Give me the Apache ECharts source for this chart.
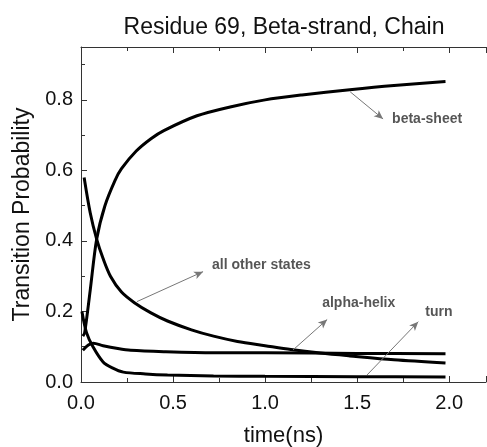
<!DOCTYPE html>
<html>
<head>
<meta charset="utf-8">
<script src="https://cdn.jsdelivr.net/npm/echarts@6/dist/echarts.min.js"></script>
<style>
  html, body { margin: 0; padding: 0; background: #fff; }
  #chart { width: 487px; height: 447px; }
</style>
</head>
<body>
<div id="chart"></div>
<script>
// Transition probabilities vs. time (ns) for residue 69
const betaSheetX = [0.01, 0.02, 0.05, 0.085, 0.13, 0.185, 0.22, 0.3, 0.38, 0.45, 0.63, 0.81, 1.0, 1.2, 1.46, 1.7, 1.98];
const betaSheetY = [0.13, 0.14, 0.26, 0.405, 0.50, 0.572, 0.605, 0.655, 0.69, 0.713, 0.755, 0.78, 0.80, 0.814, 0.829, 0.841, 0.852];

const otherX = [0.017, 0.05, 0.085, 0.12, 0.16, 0.22, 0.29, 0.38, 0.47, 0.6, 0.72, 0.85, 1.0, 1.14, 1.3, 1.46, 1.7, 1.98];
const otherY = [0.58, 0.48, 0.405, 0.35, 0.30, 0.255, 0.225, 0.196, 0.173, 0.148, 0.13, 0.115, 0.103, 0.092, 0.082, 0.074, 0.063, 0.054];

const alphaX = [0.01, 0.04, 0.067, 0.12, 0.2, 0.27, 0.45, 0.72, 1.0, 1.5, 1.98];
const alphaY = [0.09, 0.105, 0.11, 0.103, 0.095, 0.09, 0.086, 0.083, 0.083, 0.081, 0.08];

const turnX = [0.005, 0.03, 0.065, 0.12, 0.17, 0.23, 0.35, 0.47, 0.72, 1.0, 1.5, 1.98];
const turnY = [0.2, 0.14, 0.10, 0.057, 0.04, 0.028, 0.023, 0.02, 0.017, 0.016, 0.015, 0.014];

// Annotation text and arrows (data coordinates: from curve -> toward label)
const annoNames  = ['beta-sheet', 'all other states', 'alpha-helix', 'turn'];
const annoLabelX = [1.69, 0.712, 1.31, 1.87];
const annoLabelY = [0.746, 0.330, 0.225, 0.197];
const arrowFromX = [1.462, 0.304, 1.152, 1.554];
const arrowFromY = [0.823, 0.228, 0.091, 0.020];
const arrowToX   = [1.641, 0.663, 1.337, 1.832];
const arrowToY   = [0.746, 0.313, 0.177, 0.171];

const xTickLabels = ['0.0', '0.5', '1.0', '1.5', '2.0'];

const zip = (xs, ys) => xs.map((x, i) => [x, ys[i]]);
const FONT = 'Liberation Sans, Arial, sans-serif';

const curve = (name, xs, ys) => ({
  name, type: 'line', data: zip(xs, ys), smooth: 0.3, showSymbol: false,
  lineStyle: { color: '#000', width: 3 }, z: 3
});

const frameAxis = {
  axisLine: { show: true, onZero: false, lineStyle: { color: '#333', width: 1 } },
  axisTick: { show: true, inside: true, length: 6, lineStyle: { color: '#333' } },
  minorTick: { show: true, splitNumber: 2, length: 4, lineStyle: { color: '#333' } },
  splitLine: { show: false }
};

const chart = echarts.init(document.getElementById('chart'));
chart.setOption({
  animation: false,
  backgroundColor: '#fff',
  title: {
    text: 'Residue 69, Beta-strand, Chain',
    left: 279, top: 11, textAlign: 'center',
    textStyle: { fontFamily: FONT, fontSize: 23, fontWeight: 'normal', color: '#111' }
  },
  grid: { left: 81, top: 47, right: 1, bottom: 65, outerBoundsMode: 'none' },
  xAxis: [{
    type: 'value', min: 0, max: 2.2, interval: 0.5,
    name: 'time(ns)', nameLocation: 'middle', nameGap: 43,
    nameTextStyle: { fontFamily: FONT, fontSize: 22, color: '#111' },
    ...frameAxis,
    axisLabel: {
      showMaxLabel: false, margin: 11,
      fontFamily: FONT, fontSize: 20, color: '#111',
      formatter: v => xTickLabels[Math.round(v / 0.5)] ?? ''
    }
  }, {
    type: 'value', position: 'top', min: 0, max: 2.2, interval: 0.5,
    ...frameAxis,
    axisLabel: { show: false }
  }],
  yAxis: {
    type: 'value', min: 0, max: 0.95, interval: 0.2,
    name: 'Transition Probability', nameLocation: 'middle', nameGap: 47,
    nameTextStyle: { fontFamily: FONT, fontSize: 23, color: '#111' },
    ...frameAxis,
    axisLabel: {
      showMaxLabel: false, margin: 8,
      fontFamily: FONT, fontSize: 20, color: '#111',
      formatter: v => v.toFixed(1)
    }
  },
  series: [
    curve('beta-sheet', betaSheetX, betaSheetY),
    curve('all other states', otherX, otherY),
    curve('alpha-helix', alphaX, alphaY),
    curve('turn', turnX, turnY),
    {
      name: 'annotations', type: 'scatter', symbolSize: 0, z: 5,
      data: annoNames.map((n, i) => ({ value: [annoLabelX[i], annoLabelY[i]], name: n })),
      label: {
        show: true, position: 'right', distance: 0,
        formatter: p => p.name,
        fontFamily: FONT, fontSize: 14, fontWeight: 'bold', color: '#2a2a2a'
      },
      markLine: {
        silent: true, symbol: ['none', 'arrow'], symbolSize: [6, 9],
        label: { show: false },
        lineStyle: { color: '#777', width: 1, type: 'solid' },
        data: annoNames.map((n, i) => [
          { coord: [arrowFromX[i], arrowFromY[i]] },
          { coord: [arrowToX[i], arrowToY[i]] }
        ])
      }
    }
  ]
});
</script>
</body>
</html>
